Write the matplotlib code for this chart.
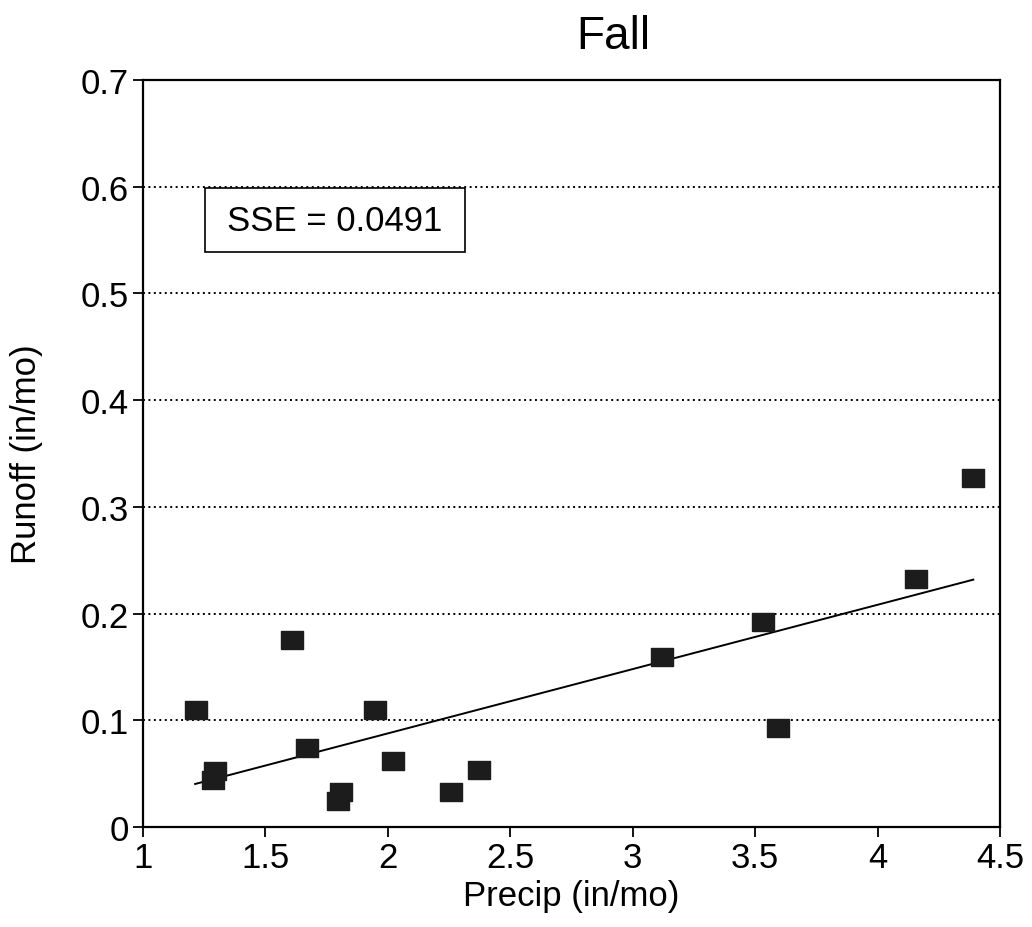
import matplotlib
matplotlib.use("Agg")
import matplotlib.pyplot as plt
from matplotlib.patches import Rectangle

plt.rcParams['font.family'] = ['Liberation Sans', 'DejaVu Sans']

precip = [1.217, 1.293, 1.287, 1.609, 1.668, 1.946, 2.021, 1.810, 1.798,
          2.257, 2.373, 3.121, 3.534, 3.595, 4.156, 4.391]
runoff = [0.110, 0.0525, 0.044, 0.175, 0.074, 0.110, 0.062, 0.033, 0.024,
          0.033, 0.053, 0.159, 0.192, 0.0925, 0.232, 0.327]

fit_x = [1.213, 4.391]
fit_y = [0.0403, 0.2318]

x_ticks = [1, 1.5, 2, 2.5, 3, 3.5, 4, 4.5]
x_labels = ['1', '1.5', '2', '2.5', '3', '3.5', '4', '4.5']
y_ticks = [0, 0.1, 0.2, 0.3, 0.4, 0.5, 0.6, 0.7]
y_labels = ['0', '0.1', '0.2', '0.3', '0.4', '0.5', '0.6', '0.7']

W, H = 1032, 928
fig = plt.figure(figsize=(W / 100, H / 100), dpi=100)
left, right, top, bottom = 143, 1000, 81, 828
ax = fig.add_axes([left / W, 1 - bottom / H, (right - left) / W, (bottom - top) / H])

ax.set_xlim(1, 4.5)
ax.set_ylim(0, 0.7)

for yv in y_ticks[1:-1]:
    ax.axhline(yv, color='black', linestyle=(0, (1, 1.8)), linewidth=1.4, zorder=1)

ax.plot(fit_x, fit_y, color='black', linewidth=1.4, zorder=2)

rect_marker = [(-1, -0.8), (1, -0.8), (1, 0.8), (-1, 0.8), (-1, -0.8)]
ax.plot(precip, runoff, linestyle='none', marker=rect_marker, markersize=16.3,
        color='#1c1c1c', markeredgecolor='#1c1c1c', zorder=3)

ax.set_xticks(x_ticks)
ax.set_xticklabels(x_labels)
ax.set_yticks(y_ticks)
ax.set_yticklabels(y_labels)
ax.tick_params(direction='out', length=7, width=1.3, labelsize=25, colors='black', pad=3)

for s in ax.spines.values():
    s.set_linewidth(1.6)
    s.set_color('black')

ax.set_xlabel('Precip (in/mo)', fontsize=25, labelpad=4)
ax.set_ylabel('Runoff (in/mo)', fontsize=25, labelpad=27)
fig.text(613 / W, 1 - 37 / H, 'Fall', fontsize=33, ha='center', va='center')

bx0, bx1, by0, by1 = 205, 465, 189, 253
ax.add_patch(Rectangle(((bx0 - left) / (right - left), (bottom - by1) / (bottom - top)),
                       (bx1 - bx0) / (right - left), (by1 - by0) / (bottom - top),
                       transform=ax.transAxes, facecolor='white', edgecolor='black',
                       linewidth=1.2, zorder=4))
ax.text(((bx0 + bx1) / 2 - left) / (right - left), (bottom - (by0 + by1) / 2) / (bottom - top),
        'SSE = 0.0491', transform=ax.transAxes, fontsize=25, ha='center', va='center', zorder=5)

fig.savefig('out.png', dpi=100)
